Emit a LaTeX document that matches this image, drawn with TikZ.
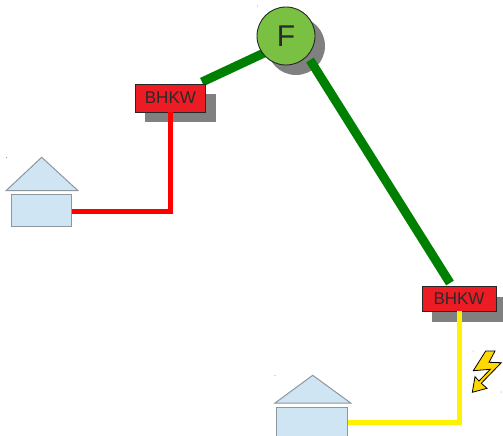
\documentclass[tikz,border=0pt]{standalone}
\usepackage{fontspec}
\setmainfont{Liberation Sans}
\definecolor{brick}{HTML}{ED1C24}
\definecolor{roofblue}{HTML}{CFE5F4}
\definecolor{housegray}{HTML}{8E979E}
\definecolor{leaf}{HTML}{7AC143}
\definecolor{pipegreen}{HTML}{008000}
\definecolor{shadowgray}{HTML}{808080}
\definecolor{bolt}{HTML}{FFD800}
\definecolor{inktext}{HTML}{2A2A2A}
\tikzset{
  bhkwbox/.style={draw=black!85,fill=brick,line width=0.9pt,minimum width=70.5pt,minimum height=28pt,inner sep=0pt,text=inktext,font=\fontsize{17}{18}\selectfont},
  shadowbox/.style={fill=shadowgray,minimum width=71pt,minimum height=28pt,inner sep=0pt},
  housepart/.style={draw=housegray,fill=roofblue,line width=1pt,line join=miter},
  pipegr/.style={draw=pipegreen,line width=9pt},
  speck/.style={fill=gray,circle,inner sep=0pt,minimum size=1pt}
}
\begin{document}
\begin{tikzpicture}[x=1pt,y=-1pt]
\useasboundingbox (0,0) rectangle (503,436);
\begin{scope}
\clip (0,0) rectangle (503,436);
% shadows
\fill[shadowgray] (296,46) circle (29);
\node[shadowbox] (s1) at (180.5,108) {};
\node[shadowbox,minimum width=74pt,minimum height=25pt] (s2) at (469,309) {};
% pipes
\coordinate (gA) at (202,82);
\coordinate (gB) at (264,53);
\coordinate (gC) at (310,60);
\coordinate (gD) at (450,283);
\draw[pipegr] (gA) -- (gB);
\draw[pipegr] (gC) -- (gD);
% houses
\node[housepart,minimum width=60pt,minimum height=31.5pt,inner sep=0pt] (h1) at (41.3,210.7) {};
\node[housepart,minimum width=71.5pt,minimum height=40pt,inner sep=0pt] (h2) at (312,427.7) {};
\node[bhkwbox] (b1) at (170.4,98) {BHKW};
\node[bhkwbox,minimum width=74pt,minimum height=25pt] (b2) at (459,298.5) {BHKW};
\coordinate (rc) at (170.4,211);
\coordinate (yc) at (459,422);
\draw[red,line width=5pt,line join=miter] (b1.south) -- (rc) -- (h1.east |- rc);
\draw[yellow,line width=5pt,line join=miter] (b2.south) -- (yc) -- (h2.east |- yc);
\node[circle,draw=black!85,fill=leaf,line width=0.9pt,minimum size=58pt,inner sep=0pt,text=inktext,font=\fontsize{30}{31}\selectfont] (f) at (286,36) {F};
% roofs
\draw[housepart] (41.7,157.3) -- (78,190.7) -- (6,190.7) -- cycle;
\draw[housepart] (312.7,375.3) -- (350.7,403) -- (275,403) -- cycle;
% bolt
\draw[fill=bolt,draw=black,line width=0.8pt,line join=miter]
  (485.7,351) -- (495,351) -- (489,362.3) -- (501.3,362.7) -- (481.3,383.3) -- (487,388.3) -- (472.3,392.3) -- (475,376.7) -- (479,381) -- (490.3,369.3) -- (473.3,370.7) -- cycle;
% specks
\node[speck] (k1) at (6.5,157.5) {};
\node[speck] (k2) at (257.5,6) {};
\node[speck] (k3) at (473,351) {};
\node[speck] (k4) at (501,392) {};
\node[speck] (k5) at (275,375.5) {};
\end{scope}
\end{tikzpicture}
\end{document}
